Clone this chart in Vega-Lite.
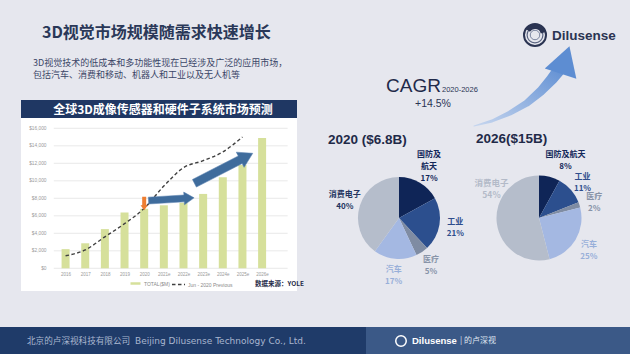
{
  "$schema": "https://vega.github.io/schema/vega-lite/v6.json",
  "width": 630,
  "height": 354,
  "autosize": {"type": "none"},
  "padding": 0,
  "background": "#e6e7ee",
  "config": {"view": {"stroke": null}, "font": "Noto Sans CJK SC"},
  "datasets": {
    "bars": [
      {"year": 2016, "value": 2190, "series": "TOTAL($M)"},
      {"year": 2017, "value": 2860, "series": "TOTAL($M)"},
      {"year": 2018, "value": 4480, "series": "TOTAL($M)"},
      {"year": 2019, "value": 6380, "series": "TOTAL($M)"},
      {"year": 2020, "value": 6800, "series": "TOTAL($M)"},
      {"year": 2021, "value": 7200, "series": "TOTAL($M)"},
      {"year": 2022, "value": 7500, "series": "TOTAL($M)"},
      {"year": 2023, "value": 8500, "series": "TOTAL($M)"},
      {"year": 2024, "value": 10400, "series": "TOTAL($M)"},
      {"year": 2025, "value": 11800, "series": "TOTAL($M)"},
      {"year": 2026, "value": 14900, "series": "TOTAL($M)"}
    ],
    "prev": [
      {"year": 2016, "value": 1430, "series": "Jun - 2020 Previous"},
      {"year": 2017, "value": 2100, "series": "Jun - 2020 Previous"},
      {"year": 2018, "value": 3600, "series": "Jun - 2020 Previous"},
      {"year": 2019, "value": 5100, "series": "Jun - 2020 Previous"},
      {"year": 2020, "value": 6850, "series": "Jun - 2020 Previous"},
      {"year": 2021, "value": 9400, "series": "Jun - 2020 Previous"},
      {"year": 2022, "value": 11500, "series": "Jun - 2020 Previous"},
      {"year": 2023, "value": 12300, "series": "Jun - 2020 Previous"},
      {"year": 2024, "value": 13300, "series": "Jun - 2020 Previous"},
      {"year": 2025, "value": 15000, "series": "Jun - 2020 Previous"}
    ],
    "grid": [
      {"v": 0}, {"v": 2000}, {"v": 4000}, {"v": 6000}, {"v": 8000},
      {"v": 10000}, {"v": 12000}, {"v": 14000}, {"v": 16000}
    ],
    "p2020": [
      {"seg": "国防及航天", "o": 1, "pct": 17, "label": "国防及\n航天\n17%"},
      {"seg": "工业", "o": 2, "pct": 21, "label": "工业\n21%"},
      {"seg": "医疗", "o": 3, "pct": 5, "label": "医疗\n5%"},
      {"seg": "汽车", "o": 4, "pct": 17, "label": "汽车\n17%"},
      {"seg": "消费电子", "o": 5, "pct": 40, "label": "消费电子\n40%"}
    ],
    "p2026": [
      {"seg": "国防及航天", "o": 1, "pct": 8, "label": "国防及航天\n8%"},
      {"seg": "工业", "o": 2, "pct": 11, "label": "工业\n11%"},
      {"seg": "医疗", "o": 3, "pct": 2, "label": "医疗\n2%"},
      {"seg": "汽车", "o": 4, "pct": 25, "label": "汽车\n25%"},
      {"seg": "消费电子", "o": 5, "pct": 54, "label": "消费电子\n54%"}
    ],
    "bigArrow": [
      {"px": 474, "py": 126, "w": 1},
      {"px": 492, "py": 121, "w": 3},
      {"px": 510, "py": 113, "w": 5},
      {"px": 527, "py": 103, "w": 7},
      {"px": 541, "py": 91, "w": 9},
      {"px": 552, "py": 79, "w": 11},
      {"px": 559, "py": 70, "w": 12}
    ]
  },
  "resolve": {"scale": {"x": "independent", "y": "independent", "color": "independent", "theta": "independent", "strokeDash": "independent", "size": "independent", "opacity": "independent"}},
  "layer": [
    {"data": {"values": [{}]}, "mark": {"type": "rect", "x": 0, "x2": 630, "y": 327, "y2": 354, "fill": "#1f3b69"}, "encoding": {}},
    {"data": {"values": [{}]}, "mark": {"type": "rect", "x": 366, "x2": 630, "y": 327, "y2": 354, "fill": "#3b5987"}, "encoding": {}},
    {"data": {"values": [{}]}, "mark": {"type": "rule", "x": 372, "x2": 360, "y": 327, "y2": 354, "stroke": "#ffffff", "strokeWidth": 1.5}, "encoding": {}},
    {"data": {"values": [{}]}, "mark": {"type": "text", "x": 27, "y": 341, "align": "left", "baseline": "middle", "fontSize": 8.6, "fill": "#a9b6cf", "text": "北京的卢深视科技有限公司"}, "encoding": {}},
    {"data": {"values": [{}]}, "mark": {"type": "text", "x": 135, "y": 341, "align": "left", "baseline": "middle", "fontSize": 9, "font": "DejaVu Sans", "fill": "#a9b6cf", "text": "Beijing Dilusense Technology Co., Ltd."}, "encoding": {}},
    {"data": {"values": [{}]}, "mark": {"type": "point", "x": 401, "y": 341, "shape": "circle", "size": 110, "filled": false, "stroke": "#ffffff", "strokeWidth": 1.5, "opacity": 1}, "encoding": {}},
    {"data": {"values": [{}]}, "mark": {"type": "text", "x": 412, "y": 341, "align": "left", "baseline": "middle", "fontSize": 9.5, "fontWeight": "bold", "font": "Liberation Sans", "fill": "#ffffff", "text": "Dilusense"}, "encoding": {}},
    {"data": {"values": [{}]}, "mark": {"type": "text", "x": 460, "y": 341, "align": "left", "baseline": "middle", "fontSize": 8, "fill": "#dfe5f0", "text": "|  的卢深视"}, "encoding": {}},

    {"data": {"values": [{}]}, "mark": {"type": "rule", "x": 0, "x2": 27, "y": 25, "y2": 25, "stroke": "#8592b0", "strokeWidth": 1.2}, "encoding": {}},
    {"data": {"values": [{}]}, "mark": {"type": "rule", "x": 0, "x2": 27, "y": 33.5, "y2": 33.5, "stroke": "#24355f", "strokeWidth": 3.5}, "encoding": {}},
    {"data": {"values": [{}]}, "mark": {"type": "rule", "x": 0, "x2": 27, "y": 42, "y2": 42, "stroke": "#4a5a80", "strokeWidth": 2.5}, "encoding": {}},
    {"data": {"values": [{}]}, "mark": {"type": "text", "x": 42, "y": 33, "align": "left", "baseline": "middle", "fontSize": 16, "fontWeight": "bold", "fill": "#2a3858", "text": "3D视觉市场规模随需求快速增长"}, "encoding": {}},
    {"data": {"values": [{}]}, "mark": {"type": "text", "x": 33, "y": 62.8, "align": "left", "baseline": "middle", "fontSize": 9, "fill": "#3a4566", "text": "3D视觉技术的低成本和多功能性现在已经涉及广泛的应用市场，"}, "encoding": {}},
    {"data": {"values": [{}]}, "mark": {"type": "text", "x": 33, "y": 74.6, "align": "left", "baseline": "middle", "fontSize": 9, "fill": "#3a4566", "text": "包括汽车、消费和移动、机器人和工业以及无人机等"}, "encoding": {}},

    {"data": {"values": [{}]}, "mark": {"type": "rect", "x": 21, "x2": 297, "y": 100, "y2": 291, "fill": "#ffffff"}, "encoding": {}},
    {"data": {"values": [{}]}, "mark": {"type": "rect", "x": 21, "x2": 297, "y": 100, "y2": 118, "fill": "#1f3763"}, "encoding": {}},
    {"data": {"values": [{}]}, "mark": {"type": "text", "x": 163, "y": 109.5, "align": "center", "baseline": "middle", "fontSize": 12, "fontWeight": "bold", "fill": "#ffffff", "text": "全球3D成像传感器和硬件子系统市场预测"}, "encoding": {}},

    {
      "layer": [
        {
          "data": {"name": "grid"},
          "mark": {"type": "rule", "stroke": "#e3e3e3", "strokeWidth": 0.8},
          "encoding": {
            "x": {"datum": 2015.4, "type": "quantitative", "title": null, "scale": {"domain": [2015.5, 2027.3], "range": [50.75, 292.65], "nice": false, "zero": false}},
            "x2": {"datum": 2027.3},
            "y": {"field": "v", "type": "quantitative", "title": null, "scale": {"domain": [0, 16000], "range": [268.3, 128.3], "nice": false}}
          }
        },
        {
          "data": {"name": "bars"},
          "mark": {"type": "bar", "size": 8, "fill": "#d6e09b"},
          "encoding": {
            "x": {"field": "year", "type": "quantitative", "title": null,
              "scale": {"domain": [2015.5, 2027.3], "range": [50.75, 292.65], "nice": false, "zero": false},
              "axis": {"orient": "bottom", "offset": -85.7, "zindex": 1, "values": [2016, 2017, 2018, 2019, 2020, 2021, 2022, 2023, 2024, 2025, 2026], "format": "d", "labelExpr": "datum.value > 2020 ? datum.label + 'e' : datum.label", "labelFontSize": 4.5, "labelColor": "#9a9a9a", "labelPadding": 3, "labelFont": "Liberation Sans", "labelAngle": 0, "domain": false, "ticks": false, "grid": false, "tickSize": 0}},
            "y": {"field": "value", "type": "quantitative", "title": null,
              "scale": {"domain": [0, 16000], "range": [268.3, 128.3], "nice": false},
              "axis": {"orient": "left", "offset": -49, "zindex": 1, "values": [0, 2000, 4000, 6000, 8000, 10000, 12000, 14000, 16000], "format": "$,.0f", "labelFontSize": 4.8, "labelColor": "#9a9a9a", "labelPadding": 3, "labelFont": "Liberation Sans", "domain": false, "ticks": false, "grid": false, "tickSize": 0}},
            "color": {"field": "series", "type": "nominal", "scale": {"range": ["#d6e09b"]},
              "legend": {"orient": "none", "legendX": 129, "legendY": 277, "title": null, "symbolType": "stroke", "symbolSize": 100, "symbolStrokeWidth": 2.5, "symbolStrokeColor": "#d6e09b", "labelFontSize": 5, "labelColor": "#8a8a8a", "labelFont": "Liberation Sans", "padding": 0, "labelOffset": 2,
                "encode": {"symbols": {"update": {"stroke": {"value": "#d6e09b"}, "strokeWidth": {"value": 2.5}}}}}}
          }
        },
        {
          "data": {"name": "prev"},
          "mark": {"type": "line", "stroke": "#404040", "strokeWidth": 1.4, "interpolate": "monotone"},
          "encoding": {
            "x": {"field": "year", "type": "quantitative", "title": null, "scale": {"domain": [2015.5, 2027.3], "range": [50.75, 292.65], "nice": false, "zero": false}},
            "y": {"field": "value", "type": "quantitative", "title": null, "scale": {"domain": [0, 16000], "range": [268.3, 128.3], "nice": false}},
            "strokeDash": {"field": "series", "type": "nominal", "scale": {"range": [[3.5, 2.5]]},
              "legend": {"orient": "none", "legendX": 171, "legendY": 277, "title": null, "symbolType": "stroke", "symbolSize": 170, "symbolStrokeWidth": 1.4, "symbolStrokeColor": "#404040", "labelFontSize": 5, "labelColor": "#8a8a8a", "labelFont": "Liberation Sans", "padding": 0, "labelOffset": 2}}
          }
        },
        {
          "data": {"values": [{}]},
          "mark": {"type": "point", "shape": "M-1,-0.3L0.25,-0.3L0.25,-0.55L1,0L0.25,0.55L0.25,0.3L-1,0.3Z", "size": 177, "angle": 90, "filled": true, "fill": "#ed7d31", "opacity": 1},
          "encoding": {
            "x": {"datum": 2020, "type": "quantitative", "scale": {"domain": [2015.5, 2027.3], "range": [50.75, 292.65], "nice": false, "zero": false}},
            "y": {"datum": 7406, "type": "quantitative", "scale": {"domain": [0, 16000], "range": [268.3, 128.3], "nice": false}}
          }
        },
        {
          "data": {"values": [{}]},
          "mark": {"type": "point", "shape": "M-1,-0.15L0.56,-0.15L0.56,-0.28L1,0L0.56,0.28L0.56,0.15L-1,0.15Z", "size": 2088, "angle": -3.4, "filled": true, "fill": "#3f6c9c", "stroke": "#5a82b0", "strokeWidth": 0.5, "opacity": 1},
          "encoding": {
            "x": {"datum": 2021.38, "type": "quantitative", "scale": {"domain": [2015.5, 2027.3], "range": [50.75, 292.65], "nice": false, "zero": false}},
            "y": {"datum": 7897, "type": "quantitative", "scale": {"domain": [0, 16000], "range": [268.3, 128.3], "nice": false}}
          }
        },
        {
          "data": {"values": [{}]},
          "mark": {"type": "point", "shape": "M-1,-0.13L0.57,-0.13L0.57,-0.26L1,0L0.57,0.26L0.57,0.13L-1,0.13Z", "size": 4303, "angle": -27.2, "filled": true, "fill": "#3f6c9c", "stroke": "#5a82b0", "strokeWidth": 0.5, "opacity": 1},
          "encoding": {
            "x": {"datum": 2024.04, "type": "quantitative", "scale": {"domain": [2015.5, 2027.3], "range": [50.75, 292.65], "nice": false, "zero": false}},
            "y": {"datum": 11429, "type": "quantitative", "scale": {"domain": [0, 16000], "range": [268.3, 128.3], "nice": false}}
          }
        }
      ]
    },
    {"data": {"values": [{}]}, "mark": {"type": "text", "x": 255, "y": 284, "align": "left", "baseline": "middle", "fontSize": 6.5, "fontWeight": "bold", "fill": "#1f2a48", "text": "数据来源：YOLE"}, "encoding": {}},

    {
      "data": {"name": "bigArrow"},
      "mark": {"type": "trail", "fill": {"gradient": "linear", "x1": 0, "y1": 1, "x2": 1, "y2": 0, "stops": [{"offset": 0, "color": "#c8d7ef"}, {"offset": 1, "color": "#5d8dd2"}]}},
      "encoding": {
        "x": {"field": "px", "type": "quantitative", "scale": null, "axis": null},
        "y": {"field": "py", "type": "quantitative", "scale": null, "axis": null},
        "size": {"field": "w", "type": "quantitative", "scale": null, "legend": null},
        "order": {"field": "px", "type": "quantitative"}
      }
    },
    {"data": {"values": [{}]}, "mark": {"type": "point", "x": 565, "y": 60, "shape": "triangle-up", "size": 1100, "angle": 18, "filled": true, "fill": "#5d8dd2", "opacity": 1}, "encoding": {}},

    {"data": {"values": [{}]}, "mark": {"type": "text", "x": 386, "y": 86, "align": "left", "baseline": "middle", "fontSize": 19, "font": "Liberation Sans", "fill": "#1f2a4a", "text": "CAGR"}, "encoding": {}},
    {"data": {"values": [{}]}, "mark": {"type": "text", "x": 442, "y": 90, "align": "left", "baseline": "middle", "fontSize": 7.5, "font": "Liberation Sans", "fill": "#2a3555", "text": "2020-2026"}, "encoding": {}},
    {"data": {"values": [{}]}, "mark": {"type": "text", "x": 433, "y": 103.5, "align": "center", "baseline": "middle", "fontSize": 10.5, "font": "Liberation Sans", "fill": "#2a3555", "text": "+14.5%"}, "encoding": {}},

    {"data": {"values": [{}]}, "mark": {"type": "text", "x": 328, "y": 139.5, "align": "left", "baseline": "middle", "fontSize": 13.5, "fontWeight": "bold", "font": "Liberation Sans", "fill": "#1f2a48", "text": "2020 ($6.8B)"}, "encoding": {}},
    {"data": {"values": [{}]}, "mark": {"type": "text", "x": 476, "y": 138.5, "align": "left", "baseline": "middle", "fontSize": 13.5, "fontWeight": "bold", "font": "Liberation Sans", "fill": "#1f2a48", "text": "2026($15B)"}, "encoding": {}},

    {
      "data": {"name": "p2020"},
      "mark": {"type": "arc", "x": 399, "y": 218, "outerRadius": 41},
      "encoding": {
        "theta": {"field": "pct", "type": "quantitative", "stack": true},
        "order": {"field": "o", "type": "quantitative"},
        "color": {"field": "seg", "type": "nominal", "legend": null, "scale": {"domain": ["国防及航天", "工业", "医疗", "汽车", "消费电子"], "range": ["#0f2557", "#2c4f8e", "#7f8ca3", "#a4b8e2", "#b5bdcb"]}}
      }
    },
    {
      "data": {"name": "p2020"},
      "mark": {"type": "text", "x": 399, "y": 218, "radius": 57, "dy": -5, "lineBreak": "\n", "lineHeight": 12, "fontSize": 8, "fontWeight": "bold", "align": "center", "baseline": "middle"},
      "encoding": {
        "theta": {"field": "pct", "type": "quantitative", "stack": true},
        "order": {"field": "o", "type": "quantitative"},
        "text": {"field": "label", "type": "nominal"},
        "opacity": {"condition": {"test": "datum.seg != '国防及航天'", "value": 1}, "value": 0},
        "color": {"field": "seg", "type": "nominal", "legend": null, "scale": {"domain": ["国防及航天", "工业", "医疗", "汽车", "消费电子"], "range": ["#13285a", "#2e4d8c", "#8793a8", "#98afd9", "#233560"]}}
      }
    },
    {
      "data": {"name": "p2020"},
      "mark": {"type": "text", "x": 399, "y": 218, "radius": 59, "dy": -12.5, "lineBreak": "\n", "lineHeight": 12, "fontSize": 8, "fontWeight": "bold", "align": "center", "baseline": "middle"},
      "encoding": {
        "theta": {"field": "pct", "type": "quantitative", "stack": true},
        "order": {"field": "o", "type": "quantitative"},
        "text": {"field": "label", "type": "nominal"},
        "opacity": {"condition": {"test": "datum.seg == '国防及航天'", "value": 1}, "value": 0},
        "color": {"field": "seg", "type": "nominal", "legend": null, "scale": {"domain": ["国防及航天", "工业", "医疗", "汽车", "消费电子"], "range": ["#13285a", "#2e4d8c", "#8793a8", "#98afd9", "#233560"]}}
      }
    },

    {
      "data": {"name": "p2026"},
      "mark": {"type": "arc", "x": 539, "y": 218, "outerRadius": 42.5},
      "encoding": {
        "theta": {"field": "pct", "type": "quantitative", "stack": true},
        "order": {"field": "o", "type": "quantitative"},
        "color": {"field": "seg", "type": "nominal", "legend": null, "scale": {"domain": ["国防及航天", "工业", "医疗", "汽车", "消费电子"], "range": ["#0f2557", "#2c4f8e", "#7f8ca3", "#a4b8e2", "#b5bdcb"]}}
      }
    },
    {
      "data": {"name": "p2026"},
      "mark": {"type": "text", "x": 539, "y": 218, "radius": 58, "dy": -3, "lineBreak": "\n", "lineHeight": 12, "fontSize": 8, "fontWeight": "bold", "align": "center", "baseline": "middle"},
      "encoding": {
        "theta": {"field": "pct", "type": "quantitative", "stack": true},
        "order": {"field": "o", "type": "quantitative"},
        "text": {"field": "label", "type": "nominal"},
        "opacity": {"condition": {"test": "datum.seg == '工业' || datum.seg == '医疗' || datum.seg == '汽车'", "value": 1}, "value": 0},
        "color": {"field": "seg", "type": "nominal", "legend": null, "scale": {"domain": ["国防及航天", "工业", "医疗", "汽车", "消费电子"], "range": ["#13285a", "#2e4d8c", "#8793a8", "#98afd9", "#b3bac8"]}}
      }
    },
    {
      "data": {"name": "p2026"},
      "mark": {"type": "text", "x": 539, "y": 218, "radius": 58, "dx": 12, "dy": -7, "lineBreak": "\n", "lineHeight": 12, "fontSize": 8, "fontWeight": "bold", "align": "center", "baseline": "middle"},
      "encoding": {
        "theta": {"field": "pct", "type": "quantitative", "stack": true},
        "order": {"field": "o", "type": "quantitative"},
        "text": {"field": "label", "type": "nominal"},
        "opacity": {"condition": {"test": "datum.seg == '国防及航天'", "value": 1}, "value": 0},
        "color": {"field": "seg", "type": "nominal", "legend": null, "scale": {"domain": ["国防及航天", "工业", "医疗", "汽车", "消费电子"], "range": ["#13285a", "#2e4d8c", "#8793a8", "#98afd9", "#b3bac8"]}}
      }
    },
    {
      "data": {"name": "p2026"},
      "mark": {"type": "text", "x": 539, "y": 218, "radius": 58, "dx": 10, "dy": -42, "lineBreak": "\n", "lineHeight": 12, "fontSize": 8.5, "fontWeight": "bold", "align": "center", "baseline": "middle"},
      "encoding": {
        "theta": {"field": "pct", "type": "quantitative", "stack": true},
        "order": {"field": "o", "type": "quantitative"},
        "text": {"field": "label", "type": "nominal"},
        "opacity": {"condition": {"test": "datum.seg == '消费电子'", "value": 1}, "value": 0},
        "color": {"field": "seg", "type": "nominal", "legend": null, "scale": {"domain": ["国防及航天", "工业", "医疗", "汽车", "消费电子"], "range": ["#13285a", "#2e4d8c", "#8793a8", "#98afd9", "#b3bac8"]}}
      }
    },

    {"data": {"values": [{}]}, "mark": {"type": "point", "x": 535, "y": 35, "shape": "circle", "size": 484, "filled": false, "stroke": "#2b3452", "strokeWidth": 2, "opacity": 1}, "encoding": {}},
    {"data": {"values": [{}]}, "mark": {"type": "point", "x": 535, "y": 35, "shape": "circle", "size": 250, "filled": false, "stroke": "#5a6480", "strokeWidth": 1.2, "opacity": 1}, "encoding": {}},
    {"data": {"values": [{}]}, "mark": {"type": "point", "x": 535, "y": 35, "shape": "circle", "size": 90, "filled": false, "stroke": "#7a84a0", "strokeWidth": 1, "opacity": 1}, "encoding": {}},
    {"data": {"values": [{}]}, "mark": {"type": "arc", "x": 535, "y": 35, "innerRadius": 6, "outerRadius": 11, "theta": -1.0, "theta2": 1.3, "fill": "#2b3452"}, "encoding": {}},
    {"data": {"values": [{}]}, "mark": {"type": "text", "x": 552, "y": 36, "align": "left", "baseline": "middle", "fontSize": 13.5, "fontWeight": "bold", "font": "Liberation Sans", "fill": "#2b3452", "text": "Dilusense"}, "encoding": {}}
  ]
}
